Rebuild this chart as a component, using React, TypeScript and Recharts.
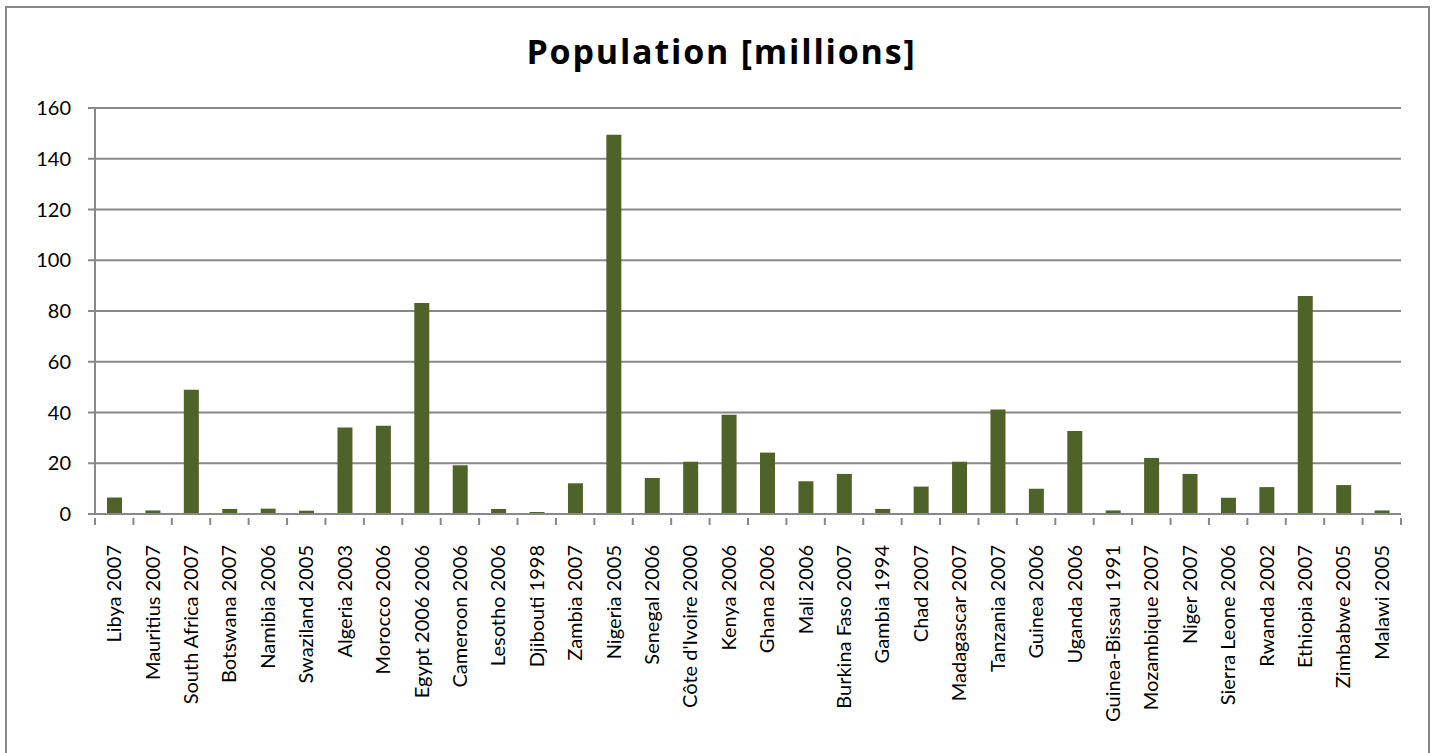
import React from "react";
import { BarChart, Bar, XAxis, YAxis, CartesianGrid } from "recharts";

const countries = [
  "Libya 2007", "Mauritius 2007", "South Africa 2007", "Botswana 2007", "Namibia 2006",
  "Swaziland 2005", "Algeria 2003", "Morocco 2006", "Egypt 2006 2006", "Cameroon 2006",
  "Lesotho 2006", "Djibouti 1998", "Zambia 2007", "Nigeria 2005", "Senegal 2006",
  "Côte d'Ivoire 2000", "Kenya 2006", "Ghana 2006", "Mali 2006", "Burkina Faso 2007",
  "Gambia 1994", "Chad 2007", "Madagascar 2007", "Tanzania 2007", "Guinea 2006",
  "Uganda 2006", "Guinea-Bissau 1991", "Mozambique 2007", "Niger 2007", "Sierra Leone 2006",
  "Rwanda 2002", "Ethiopia 2007", "Zimbabwe 2005", "Malawi 2005",
];

const population = [
  6.5, 1.4, 49.0, 2.0, 2.1, 1.3, 34.1, 34.8, 83.2, 19.2,
  2.0, 0.8, 12.1, 149.5, 14.2, 20.6, 39.1, 24.2, 12.9, 15.8,
  2.0, 10.8, 20.6, 41.2, 10.0, 32.7, 1.4, 22.1, 15.8, 6.4,
  10.6, 85.9, 11.4, 1.4,
];

const yTicks = [0, 20, 40, 60, 80, 100, 120, 140, 160];

const data = countries.map((name, i) => ({ name, value: population[i] }));

const FONT = "Lato, 'Open Sans', sans-serif";
const GRID = "#888888";

// category label rotated upwards, with tick marks drawn on the band edges
function CountryTick(props: any) {
  const { x, y, payload, index } = props;
  const half = payload.offset ?? 0;
  const axisY = y - 2;
  const last = index === countries.length - 1;
  return (
    <g>
      <line x1={x - half} x2={x - half} y1={axisY} y2={axisY + 7} stroke={GRID} strokeWidth={2} />
      {last && (
        <line x1={x + half} x2={x + half} y1={axisY} y2={axisY + 7} stroke={GRID} strokeWidth={2} />
      )}
      <text
        transform={`translate(${x},${axisY + 27}) rotate(-90)`}
        textAnchor="end"
        dy="0.35em"
        fontSize={20}
        fontFamily={FONT}
        fill="#000"
      >
        {payload.value}
      </text>
    </g>
  );
}

export default function App() {
  return (
    <div
      style={{
        position: "fixed",
        left: 5,
        top: 6,
        width: 1421,
        height: 760,
        border: `2px solid ${GRID}`,
        background: "#fff",
      }}
    >
      <div
        style={{
          position: "absolute",
          left: 8,
          right: 0,
          top: 23,
          textAlign: "center",
          fontFamily: "'Open Sans', sans-serif",
          fontWeight: 700,
          fontSize: 34,
          letterSpacing: "1.8px",
          lineHeight: "40px",
          color: "#000",
        }}
      >
        Population [millions]
      </div>
      <BarChart
        width={1421}
        height={740}
        data={data}
        margin={{ top: 100, right: 27, left: 0, bottom: 0 }}
        barSize={15}
      >
        <CartesianGrid vertical={false} stroke={GRID} strokeWidth={2} />
        <XAxis
          dataKey="name"
          interval={0}
          height={234}
          axisLine={{ stroke: GRID, strokeWidth: 2 }}
          tickLine={false}
          tickMargin={0}
          tick={<CountryTick />}
        />
        <YAxis
          width={88}
          domain={[0, 160]}
          ticks={yTicks}
          interval={0}
          axisLine={{ stroke: GRID, strokeWidth: 2 }}
          tickLine={{ stroke: GRID, strokeWidth: 2 }}
          tickSize={7}
          tickMargin={17}
          tick={{ fontSize: 20, fontFamily: FONT, fill: "#000" }}
        />
        <Bar dataKey="value" fill="#4F6228" isAnimationActive={false} />
      </BarChart>
    </div>
  );
}
